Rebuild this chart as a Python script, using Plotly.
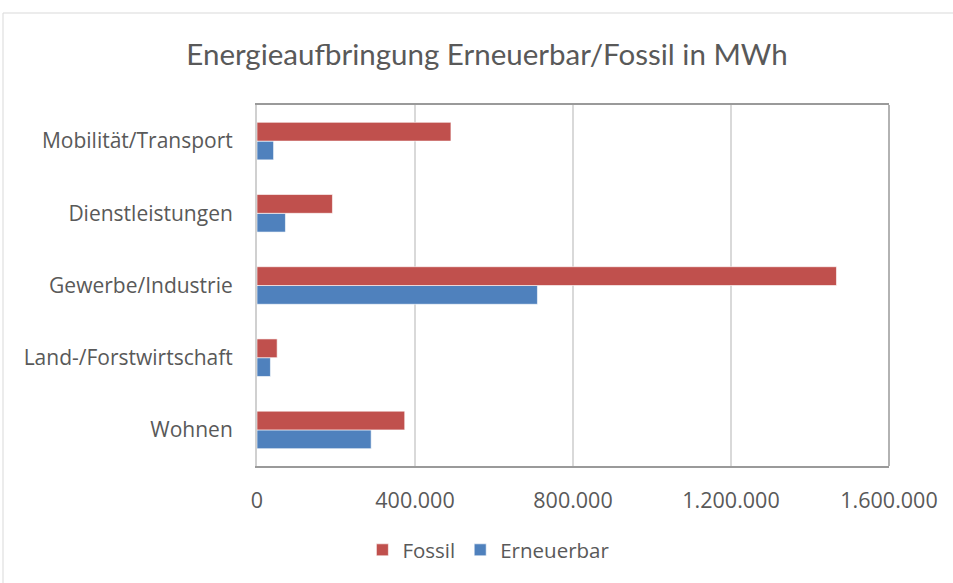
import plotly.graph_objects as go

categories = ["Wohnen", "Land-/Forstwirtschaft", "Gewerbe/Industrie", "Dienstleistungen", "Mobilität/Transport"]
fossil = [374000, 51000, 1467000, 191000, 491000]
erneuerbar = [289000, 34000, 710000, 72000, 42000]
x_ticks = [0, 400000, 800000, 1200000, 1600000]
x_tick_labels = ["0", "400.000", "800.000", "1.200.000", "1.600.000"]

FONT = "Open Sans"
TFONT = "Lato"
GREY = "#595959"
FRAME = "#9A9A9A"

fig = go.Figure()
fig.add_trace(go.Bar(
    y=categories, x=erneuerbar, orientation="h", name="Erneuerbar",
    marker=dict(color="#4F81BD", line=dict(color="rgba(255,255,255,0.6)", width=1)),
))
fig.add_trace(go.Bar(
    y=categories, x=fossil, orientation="h", name="Fossil",
    marker=dict(color="#C0504D", line=dict(color="rgba(255,255,255,0.6)", width=1)),
))

fig.update_layout(
    width=953, height=583,
    paper_bgcolor="white", plot_bgcolor="white",
    margin=dict(l=257, r=64, t=105, b=117),
    barmode="group", bargap=0.48, bargroupgap=0,
    font=dict(family=FONT, color=GREY, size=21),
    title=dict(text="Energieaufbringung Erneuerbar/Fossil in MWh",
               x=0.511, xref="container", xanchor="center",
               y=1 - 55 / 583, yref="container", yanchor="middle",
               font=dict(family=TFONT, size=29.5, color=GREY)),
    legend=dict(orientation="h", traceorder="reversed",
                x=0.513, xref="container", xanchor="center",
                y=1 - 550 / 583, yref="container", yanchor="middle",
                itemwidth=30,
                font=dict(family=FONT, size=20.5, color=GREY)),
    showlegend=True,
    shapes=[
        dict(type="rect", xref="paper", yref="paper",
             x0=(3 - 257) / 632, x1=(960 - 257) / 632,
             y0=(466 - 590) / 361, y1=(466 - 13) / 361,
             line=dict(color="#D9D9D9", width=1), fillcolor="rgba(0,0,0,0)",
             layer="below"),
        dict(type="line", xref="paper", yref="paper", x0=1, x1=1, y0=0, y1=1,
             line=dict(color=FRAME, width=1.5)),
    ],
)
fig.update_xaxes(range=[0, 1600000], tickvals=x_ticks, ticktext=x_tick_labels,
                 showgrid=True, gridcolor="#D9D9D9", gridwidth=1.5,
                 zeroline=False, showline=True, mirror=True,
                 linecolor=FRAME, linewidth=1.5, ticks="",
                 ticklabelstandoff=14, tickfont=dict(size=21.5, color=GREY))
fig.update_yaxes(showgrid=False, showline=True, linecolor="#D0D0D0", linewidth=2,
                 ticks="", ticklabelstandoff=18, tickfont=dict(size=21, color=GREY))

fig.write_html("out.html", post_script="document.body.style.margin='0';",
               config={"displayModeBar": False})
